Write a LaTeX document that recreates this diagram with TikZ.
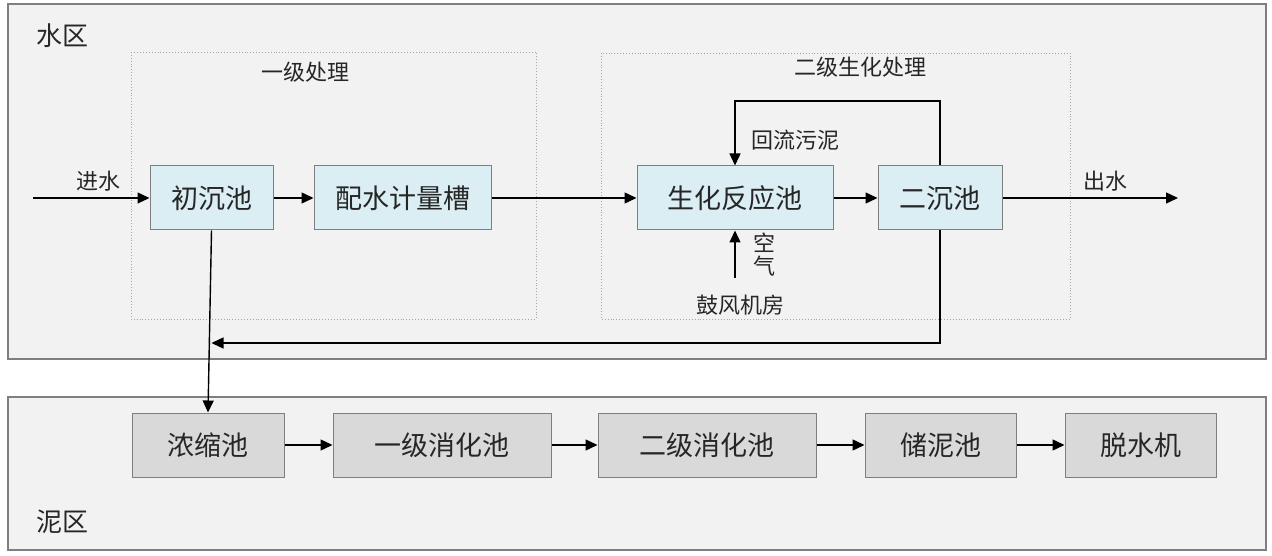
\documentclass[tikz,border=0pt]{standalone}
\usepackage{fontspec}
\setmainfont{Noto Sans CJK SC}
\usetikzlibrary{arrows.meta}
\definecolor{zonefill}{HTML}{F2F2F2}
\definecolor{zoneline}{HTML}{7F7F7F}
\definecolor{bluebox}{HTML}{DAEEF3}
\definecolor{graybox}{HTML}{D9D9D9}
\definecolor{boxline}{HTML}{7F7F7F}
\definecolor{txt}{HTML}{262626}
\definecolor{dotline}{HTML}{A6A6A6}
\tikzset{
  zone/.style={draw=zoneline, fill=zonefill, line width=1.3pt},
  group/.style={draw=dotline, dotted, line width=0.9pt},
  proc/.style={draw=boxline, line width=1pt, inner sep=0pt, minimum height=64pt,
    font=\fontsize{27}{27}\selectfont, text=txt},
  wbox/.style={proc, fill=bluebox},
  mbox/.style={proc, fill=graybox, minimum width=151pt},
  lab/.style={font=\fontsize{22}{23}\selectfont, text=txt, inner sep=0pt},
  zlab/.style={font=\fontsize{26}{26}\selectfont, text=txt, inner sep=0pt},
  arr/.style={line width=1.4pt, draw=black, -{Triangle[length=12pt,width=11pt]}},
  ln/.style={line width=1.4pt, draw=black}
}
\begin{document}
\begin{tikzpicture}[x=1pt,y=-1pt]
\useasboundingbox (0,0) rectangle (1272,556);
\fill[white] (0,0) rectangle (1272,556);
% zones
\draw[zone] (8,4) rectangle (1266,359);
\draw[zone] (8,397) rectangle (1266,550);
\node[zlab] (wz) at (62,36) {水区};
\node[zlab] (mz) at (62,522) {泥区};
% groups
\draw[group] (131,52) rectangle (536,319);
\draw[group] (601,53) rectangle (1070,319);
\node[lab] (g1) at (305,72) {一级处理};
\node[lab] (g2) at (860,67) {二级生化处理};
% water boxes
\node[wbox, minimum width=123pt] (c1) at (211.5,198) {初沉池};
\node[wbox, minimum width=177pt] (pw) at (402.5,198) {配水计量槽};
\node[wbox, minimum width=196pt] (bio) at (735,198) {生化反应池};
\node[wbox, minimum width=124pt] (s2) at (940,198) {二沉池};
% mud boxes
\node[mbox, minimum width=152pt] (nong) at (208,445) {浓缩池};
\node[mbox, minimum width=218pt] (d1) at (442,445) {一级消化池};
\node[mbox, minimum width=218pt] (d2) at (707,445) {二级消化池};
\node[mbox] (cn) at (940.5,445) {储泥池};
\node[mbox] (ts) at (1140.5,445) {脱水机};
% water line
\coordinate (in) at (33,198);
\coordinate (out) at (1178,198);
\draw[arr] (in) -- (c1.west);
\node[lab] (inl) at (98,181) {进水};
\draw[arr] (c1.east) -- (pw.west);
\draw[arr] (pw.east) -- (bio.west);
\draw[arr] (bio.east) -- (s2.west);
\draw[arr] (s2.east) -- (out);
\node[lab] (outl) at (1105,181) {出水};
% return sludge
\coordinate (rtop) at (940,101);
\draw[arr] (s2.north) -- (rtop) -| (bio.north);
\node[lab] (ret) at (795,140) {回流污泥};
% air
\coordinate (air) at (735,278);
\draw[arr] (air) -- (bio.south);
\node[lab, align=center] (airl) at (764,255) {空\\气};
\node[lab] (blow) at (740,305) {鼓风机房};
% excess sludge
\coordinate (rb) at (940,343);
\draw[arr] (s2.south) -- (rb) -- (rb -| c1.south);
\draw[arr] (c1.south) -- (nong.north);
% mud line
\draw[arr] (nong.east) -- (d1.west);
\draw[arr] (d1.east) -- (d2.west);
\draw[arr] (d2.east) -- (cn.west);
\draw[arr] (cn.east) -- (ts.west);
\end{tikzpicture}
\end{document}
